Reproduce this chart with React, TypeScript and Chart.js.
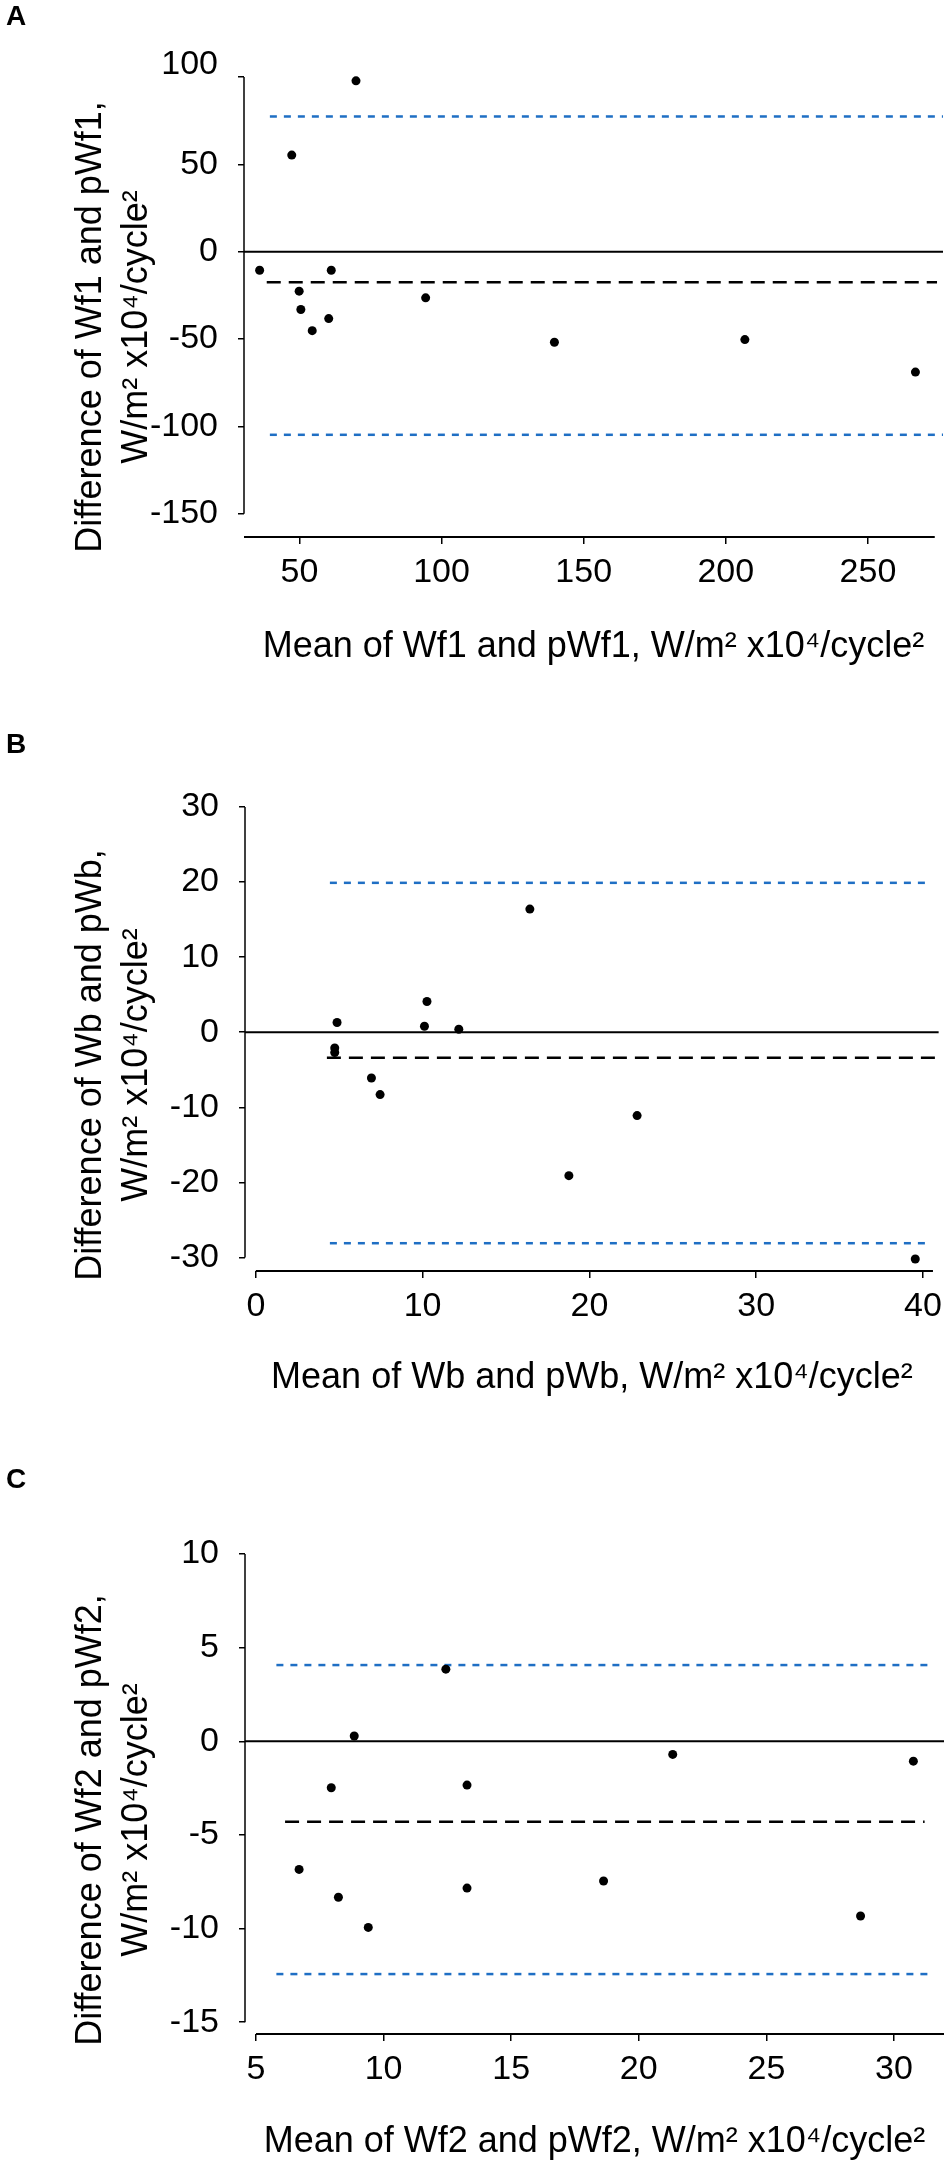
import { useEffect, useRef } from "react"
import { Chart, registerables } from "chart.js"

Chart.register(...registerables)

// ---- Panel A: Wf1 vs pWf1 ----
const meanWf1 = [36.0, 47.3, 69.9, 61.2, 49.9, 50.5, 54.5, 60.3, 94.4, 139.7, 206.7, 266.7]
const diffWf1 = [-10.6, 55.3, 97.8, -10.6, -22.6, -33.1, -45.2, -38.3, -26.4, -51.8, -50.3, -68.9]
// upper limit of agreement, bias, lower limit of agreement
const loaWf1 = [77.4, -17.5, -104.8]
const xTicksWf1 = [50, 100, 150, 200, 250]
const yTicksWf1 = [-150, -100, -50, 0, 50, 100]

// ---- Panel B: Wb vs pWb ----
const meanWb = [4.87, 4.73, 4.73, 6.93, 7.45, 10.26, 10.11, 12.17, 16.43, 18.77, 22.86, 39.54]
const diffWb = [1.3, -2.1, -2.7, -6.1, -8.3, 4.1, 0.8, 0.4, 16.4, -19.1, -11.1, -30.2]
const loaWb = [19.9, -3.4, -28.1]
const xTicksWb = [0, 10, 20, 30, 40]
const yTicksWb = [-30, -20, -10, 0, 10, 20, 30]

// ---- Panel C: Wf2 vs pWf2 ----
const meanWf2 = [8.85, 12.44, 7.95, 13.27, 21.33, 30.76, 6.69, 8.23, 9.4, 13.27, 18.62, 28.69]
const diffWf2 = [0.28, 3.85, -2.48, -2.34, -0.7, -1.06, -6.84, -8.33, -9.94, -7.84, -7.46, -9.33]
const loaWf2 = [4.07, -4.3, -12.43]
const xTicksWf2 = [5, 10, 15, 20, 25, 30]
const yTicksWf2 = [-15, -10, -5, 0, 5, 10]

const FONT = "'Liberation Sans', Arial, sans-serif"
const BLUE = "#1f6fc4"
const UNITS = "W/m\u00b2 x10\u2074/cycle\u00b2"

interface PanelLayout {
  top: number
  height: number
  chartTop: number
  chartBottom: number
  chartLeft: number
  chartRight: number
  xMin: number
  xMax: number
  yMin: number
  yMax: number
  titleCenter: number
  letterY: number
  yTitleCenter: number
  xAxisFrom: number
  xAxisTo: number
  biasFrom: number
  biasTo: number
  loaFrom: number
  loaTo: number
  raiseTopLabel: boolean
}

interface PanelProps {
  letter: string
  mean: number[]
  diff: number[]
  loa: number[]
  xTicks: number[]
  yTicks: number[]
  xTitle: string
  yTitle: string[]
  layout: PanelLayout
}

const panelDecor = {
  id: "panelDecor",
  beforeDatasetsDraw(chart: any, _args: any, opts: any) {
    const { ctx, chartArea } = chart
    const { x, y } = chart.scales
    ctx.save()
    ctx.strokeStyle = "#000"
    ctx.lineWidth = 1.5
    ctx.beginPath()
    ctx.moveTo(chartArea.left, y.getPixelForValue(opts.yAxisTop))
    ctx.lineTo(chartArea.left, y.getPixelForValue(opts.yAxisBottom))
    ctx.stroke()
    ctx.lineWidth = 2
    ctx.beginPath()
    ctx.moveTo(x.getPixelForValue(opts.xAxisFrom), chartArea.bottom)
    ctx.lineTo(x.getPixelForValue(opts.xAxisTo), chartArea.bottom)
    ctx.stroke()
    ctx.restore()
  },
  afterDraw(chart: any, _args: any, opts: any) {
    const { ctx } = chart
    ctx.save()
    ctx.fillStyle = "#000"
    ctx.font = `bold 28px ${FONT}`
    ctx.textBaseline = "middle"
    ctx.textAlign = "left"
    ctx.fillText(opts.letter, 6, opts.letterY)

    // two-line rotated y title
    ctx.font = `36px ${FONT}`
    ctx.textAlign = "center"
    ctx.textBaseline = "alphabetic"
    const baselines = [101, 147]
    for (let i = 0; i < opts.yTitle.length; i++) {
      ctx.save()
      ctx.translate(baselines[i], opts.yTitleCenter)
      ctx.rotate(-Math.PI / 2)
      ctx.fillText(opts.yTitle[i], 0, 0)
      ctx.restore()
    }
    ctx.restore()
  },
}

function BlandAltmanPanel({ letter, mean, diff, loa, xTicks, yTicks, xTitle, yTitle, layout }: PanelProps) {
  const chartRef = useRef<HTMLCanvasElement>(null)
  const chartInstance = useRef<Chart | null>(null)

  useEffect(() => {
    if (!chartRef.current) return
    if (chartInstance.current) chartInstance.current.destroy()

    const L = layout
    const points = mean.map((m, i) => ({ x: m, y: diff[i] }))
    const [upper, bias, lower] = loa
    const yTopTick = yTicks[yTicks.length - 1]

    const gridOpts = (tickLength: number) => ({
      display: true,
      drawOnChartArea: false,
      drawTicks: true,
      tickLength,
      color: "#000",
      lineWidth: 1.5,
    })

    chartInstance.current = new Chart(chartRef.current, {
      type: "scatter",
      data: {
        datasets: [
          {
            data: points,
            backgroundColor: "#000",
            borderWidth: 0,
            pointRadius: 4.5,
            showLine: false,
            clip: false,
          },
          {
            data: [
              { x: L.xMin, y: 0 },
              { x: L.xMax, y: 0 },
            ],
            showLine: true,
            borderColor: "#000",
            borderWidth: 2,
            pointRadius: 0,
          },
          {
            data: [
              { x: L.biasFrom, y: bias },
              { x: L.biasTo, y: bias },
            ],
            showLine: true,
            borderColor: "#000",
            borderWidth: 2.5,
            borderDash: [14, 8],
            pointRadius: 0,
          },
          {
            data: [
              { x: L.loaFrom, y: upper },
              { x: L.loaTo, y: upper },
            ],
            showLine: true,
            borderColor: BLUE,
            borderWidth: 2.5,
            borderDash: [7, 7],
            pointRadius: 0,
          },
          {
            data: [
              { x: L.loaFrom, y: lower },
              { x: L.loaTo, y: lower },
            ],
            showLine: true,
            borderColor: BLUE,
            borderWidth: 2.5,
            borderDash: [7, 7],
            pointRadius: 0,
          },
        ],
      },
      options: {
        animation: false,
        responsive: true,
        maintainAspectRatio: false,
        layout: {
          padding: { top: L.chartTop, left: 0, right: 950 - L.chartRight, bottom: 0 },
        },
        scales: {
          x: {
            type: "linear",
            min: L.xMin,
            max: L.xMax,
            afterBuildTicks: (s: any) => {
              s.ticks = xTicks.map((v) => ({ value: v }))
            },
            afterFit: (s: any) => {
              s.height = L.height - L.chartBottom
            },
            grid: gridOpts(7),
            border: { display: false },
            ticks: {
              color: "#000",
              font: { family: FONT, size: 34 },
              padding: 8,
              maxRotation: 0,
              autoSkip: false,
              callback: (v: any) => String(v),
            },
            title: {
              display: true,
              text: xTitle,
              color: "#000",
              font: { family: FONT, size: 36 },
              padding: { top: 0, bottom: L.height - L.titleCenter - 21.6 },
            },
          },
          y: {
            type: "linear",
            min: L.yMin,
            max: L.yMax,
            afterBuildTicks: (s: any) => {
              s.ticks = yTicks.map((v) => ({ value: v }))
            },
            afterFit: (s: any) => {
              s.width = L.chartLeft
            },
            grid: gridOpts(6),
            border: { display: false },
            ticks: {
              color: "#000",
              font: { family: FONT, size: 34, lineHeight: 0.7 },
              padding: 20,
              autoSkip: false,
              callback: (v: any) => (L.raiseTopLabel && v === yTopTick ? [String(v), ""] : String(v)),
            },
          },
        },
        plugins: {
          legend: { display: false },
          tooltip: { enabled: false },
          panelDecor: {
            letter,
            letterY: L.letterY,
            yTitle,
            yTitleCenter: L.yTitleCenter,
            yAxisTop: yTicks[yTicks.length - 1],
            yAxisBottom: yTicks[0],
            xAxisFrom: L.xAxisFrom,
            xAxisTo: L.xAxisTo,
          },
        } as any,
      },
      plugins: [panelDecor],
    })

    return () => {
      if (chartInstance.current) {
        chartInstance.current.destroy()
        chartInstance.current = null
      }
    }
  }, [letter, mean, diff, loa, xTicks, yTicks, xTitle, yTitle, layout])

  return (
    <div style={{ position: "absolute", top: layout.top, left: 0, width: 950, height: layout.height }}>
      <canvas ref={chartRef} />
    </div>
  )
}

const layoutA: PanelLayout = {
  top: 0,
  height: 700,
  chartTop: 77,
  chartBottom: 537,
  chartLeft: 244,
  chartRight: 943,
  xMin: 30.5,
  xMax: 276.4,
  yMin: -163.3,
  yMax: 100,
  titleCenter: 647,
  letterY: 17,
  yTitleCenter: 327,
  xAxisFrom: 30.5,
  xAxisTo: 273.5,
  biasFrom: 38.5,
  biasTo: 274.3,
  loaFrom: 39.6,
  loaTo: 276.4,
  raiseTopLabel: true,
}

const layoutB: PanelLayout = {
  top: 700,
  height: 730,
  chartTop: 107,
  chartBottom: 571,
  chartLeft: 245,
  chartRight: 944,
  xMin: -0.65,
  xMax: 40.95,
  yMin: -31.8,
  yMax: 30,
  titleCenter: 678,
  letterY: 45,
  yTitleCenter: 365,
  xAxisFrom: 0,
  xAxisTo: 40.6,
  biasFrom: 4.26,
  biasTo: 40.95,
  loaFrom: 4.44,
  loaTo: 40.5,
  raiseTopLabel: false,
}

const layoutC: PanelLayout = {
  top: 1430,
  height: 738,
  chartTop: 124,
  chartBottom: 604,
  chartLeft: 245,
  chartRight: 944,
  xMin: 4.57,
  xMax: 31.96,
  yMin: -15.63,
  yMax: 10,
  titleCenter: 712,
  letterY: 50,
  yTitleCenter: 390,
  xAxisFrom: 5,
  xAxisTo: 31.96,
  biasFrom: 6.14,
  biasTo: 31.2,
  loaFrom: 5.8,
  loaTo: 31.4,
  raiseTopLabel: false,
}

export default function App() {
  return (
    <div style={{ position: "absolute", top: 0, left: 0, width: 950, height: 2168, background: "#fff" }}>
      <BlandAltmanPanel
        letter="A"
        mean={meanWf1}
        diff={diffWf1}
        loa={loaWf1}
        xTicks={xTicksWf1}
        yTicks={yTicksWf1}
        xTitle={`Mean of Wf1 and pWf1, ${UNITS}`}
        yTitle={["Difference of Wf1 and pWf1,", UNITS]}
        layout={layoutA}
      />
      <BlandAltmanPanel
        letter="B"
        mean={meanWb}
        diff={diffWb}
        loa={loaWb}
        xTicks={xTicksWb}
        yTicks={yTicksWb}
        xTitle={`Mean of Wb and pWb, ${UNITS}`}
        yTitle={["Difference of Wb and pWb,", UNITS]}
        layout={layoutB}
      />
      <BlandAltmanPanel
        letter="C"
        mean={meanWf2}
        diff={diffWf2}
        loa={loaWf2}
        xTicks={xTicksWf2}
        yTicks={yTicksWf2}
        xTitle={`Mean of Wf2 and pWf2, ${UNITS}`}
        yTitle={["Difference of Wf2 and pWf2,", UNITS]}
        layout={layoutC}
      />
    </div>
  )
}
